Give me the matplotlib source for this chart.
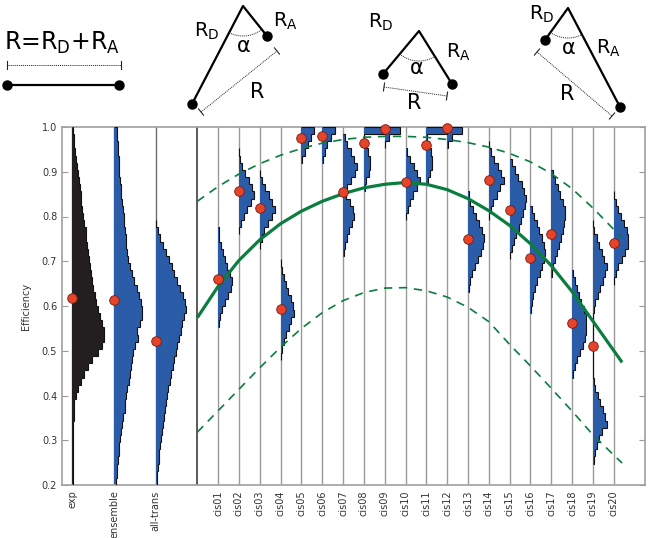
import numpy as np
import matplotlib
matplotlib.use('Agg')
import matplotlib.pyplot as plt

# column labels and their x positions on the axis
labels = ['exp', 'ensemble', 'all-trans'] + ['cis%02d' % i for i in range(1, 21)]
positions = [1, 3, 5] + list(range(8, 28))
separator = 7

# mean efficiency of each column (red dots)
mean_eff = [0.617, 0.614, 0.522,
            0.660, 0.858, 0.819, 0.594, 0.976, 0.980, 0.855, 0.965, 0.996, 0.876,
            0.959, 0.998, 0.749, 0.882, 0.815, 0.707, 0.761, 0.561, 0.510, 0.741]

# histograms: lower edge of first bin and counts, bins of equal width
bin_width = 0.016
hist_lo = [0.200, 0.200, 0.200,
           0.552, 0.760, 0.728, 0.480, 0.920, 0.920, 0.712, 0.856, 0.952, 0.792,
           0.872, 0.952, 0.632, 0.792, 0.704, 0.584, 0.664, 0.440, 0.248, 0.648]
hist_counts = [
    # exp
    [0.6, 0.6, 0.7, 0.7, 0.8, 0.8, 0.9, 0.9, 1.0, 1.1, 1.4, 2.0, 3.3, 5.5, 8.5, 11.5, 16, 20,
     26, 30, 32, 31.5, 30, 28, 25.5, 24, 22.5, 21, 19.5, 18.5, 17.5, 16.5, 15.5, 14.5, 14,
     13.3, 12, 10.7, 10, 9, 8.3, 7.3, 6.2, 5.2, 4.5, 3.8, 3.0, 2.0, 1.3, 0.7],
    # ensemble
    [1.5, 2.5, 3.2, 3.8, 4.5, 5.2, 6, 7, 8, 9.3, 10.5, 11.2, 12, 13.3, 14.5, 15.5, 16.5, 17.5,
     19, 21, 24.3, 23.3, 26, 28.3, 28, 27, 25, 22.5, 20.3, 18, 16, 14, 13, 12.3, 11.7, 11,
     10.2, 9.5, 8.8, 8, 7.3, 6.7, 6, 5.2, 4.8, 4.5, 4.2, 3.8, 3.4, 3.3],
    # all-trans
    [1.2, 1.8, 2.3, 3, 3.8, 4.7, 5.3, 6.3, 7.5, 8.5, 9.5, 10.5, 11.5, 12.7, 14, 15.5, 17,
     18.5, 20, 21.5, 23, 25, 26.5, 28.5, 30, 29, 27, 24.5, 21.5, 18.5, 16, 13.5, 10.5, 7.5,
     4.5, 2, 0.5],
    [0.7, 1.5, 3.5, 6.5, 9.5, 12.5, 13.7, 12, 9.3, 6.5, 4.5, 3, 1.3, 0.5],
    [0.5, 2.5, 5, 8.5, 12, 15.5, 13.5, 10, 6.5, 3.5, 1.5, 0.5],
    [0.5, 2, 4.5, 8, 12, 15, 12.5, 9, 5.5, 2.5, 0.5],
    [0.5, 1.5, 3.5, 5.5, 8, 10.5, 13.5, 12.5, 10, 7.5, 5, 3, 1.5, 0.4],
    [1, 3.5, 7, 10, 12.5],
    [1, 2.5, 5, 9, 13],
    [0.5, 1.5, 3.5, 5.5, 8.5, 10.5, 9.5, 6.5, 3, 4, 8, 12, 13.5, 11, 7.5, 4, 1.5],
    [1, 2.5, 5, 6.5, 6, 4, 2, 0.5, 21],
    [0.5, 4.5, 15],
    [0.5, 2, 4, 7, 11, 14, 11.5, 8, 4.5, 1.5],
    [1.5, 3.5, 5.5, 6, 5, 3, 1, 21],
    [0.5, 4.5, 14.5],
    [0.5, 2, 4, 6.5, 9.5, 12.5, 15, 16, 14, 11, 8, 5, 2, 0.5],
    [0.5, 2, 4.5, 8, 11.5, 15, 12.5, 9, 5.5, 2.5, 0.5],
    [0.5, 2, 4, 6.5, 9, 11, 13.5, 15.5, 16.3, 14.5, 12, 8.5, 5, 2],
    [0.5, 1.5, 3, 5, 7, 9.5, 11.5, 13.5, 15, 14, 12, 9, 6.5, 4, 1.5],
    [0.5, 1.5, 3.5, 5.5, 7.5, 9.5, 11.5, 12.5, 13.5, 14, 11.5, 9, 6.5, 4, 1.5],
    [0.5, 2.5, 5, 8, 10.5, 12.5, 13.5, 14.3, 13.5, 11.5, 9, 7, 4.5, 2.5, 1],
    [0.7, 2, 4, 6, 9, 14, 12.5, 10, 7.5, 5, 2.5, 1, 0, 0, 0, 0, 0, 0, 0, 0, 0,
     1, 2.5, 5, 7.5, 10, 12.5, 14, 11.5, 9, 6.5, 4, 1.5, 0.5],
    [0.5, 2, 4.5, 8, 11.5, 14, 14.5, 13, 10.5, 7.5, 4.5, 2, 0.5],
]
count_scale = 1 / 20.84  # counts -> column units

# model curves (green)
curve_x = [7, 8, 9, 10, 11, 12, 13, 14, 15, 16, 17, 18, 19, 20, 21, 22, 23, 24, 25, 26, 27.4]
curve_mid = [0.574, 0.644, 0.702, 0.748, 0.784, 0.812, 0.834, 0.851, 0.864, 0.872, 0.876,
             0.872, 0.860, 0.840, 0.813, 0.780, 0.739, 0.690, 0.632, 0.566, 0.474]
curve_hi = [0.834, 0.867, 0.895, 0.918, 0.937, 0.952, 0.964, 0.972, 0.977, 0.979, 0.979,
            0.977, 0.972, 0.965, 0.955, 0.941, 0.922, 0.896, 0.862, 0.819, 0.752]
curve_lo = [0.318, 0.366, 0.414, 0.462, 0.508, 0.550, 0.585, 0.612, 0.630, 0.640, 0.641,
            0.634, 0.620, 0.597, 0.565, 0.514, 0.466, 0.416, 0.365, 0.312, 0.249]

blue = '#2a5ca8'
dark = '#231f20'
green = '#0b7d3e'
red = '#e5432a'

fig = plt.figure(figsize=(6.48, 5.38), dpi=100)
ax = fig.add_axes([62 / 648, 1 - 485 / 538, 583 / 648, 358 / 538])

for i, pos in enumerate(positions):
    ax.axvline(pos, color='#6e6e6e' if i < 3 else '#9a9a9a', lw=1.0, zorder=1)
ax.axvline(separator, color='#5a5a5a', lw=1.4, zorder=1)

for i, pos in enumerate(positions):
    counts = np.array(hist_counts[i], dtype=float)
    edges = hist_lo[i] + bin_width * np.arange(len(counts) + 1)
    vals = pos + counts * count_scale
    ax.stairs(vals, edges, baseline=pos, orientation='horizontal', fill=True,
              color=dark if i == 0 else blue, lw=0, zorder=2)
    ax.stairs(vals, edges, baseline=pos, orientation='horizontal', fill=False,
              color='#111111', lw=0.8, zorder=3)

ax.plot(curve_x, curve_mid, color=green, lw=2.3, zorder=4, solid_capstyle='butt')
ax.plot(curve_x, curve_hi, color=green, lw=1.2, ls=(0, (5, 4)), zorder=4)
ax.plot(curve_x, curve_lo, color=green, lw=1.2, ls=(0, (5, 4)), zorder=4)

ax.scatter(positions, mean_eff, s=48, color=red, edgecolors='#7a1c10', linewidths=0.6,
           zorder=5, clip_on=False)

ax.set_xlim(0.5, 28.5)
ax.set_ylim(0.2, 1.0)
ax.set_yticks(np.arange(0.2, 1.01, 0.1))
ax.set_yticklabels(['%.1f' % v for v in np.arange(0.2, 1.01, 0.1)])
ax.set_xticks(positions)
ax.set_xticklabels(labels, rotation=90, va='top')
ax.tick_params(axis='y', direction='in', length=4, right=True, labelsize=7,
               colors='#999999', labelcolor='#333333', width=0.8)
ax.tick_params(axis='x', length=0, labelsize=7, labelcolor='#333333', pad=4)
ax.set_ylabel('Efficiency', fontsize=7, color='#333333', labelpad=8)
for s in ax.spines.values():
    s.set_color('#a0a0a0')
    s.set_linewidth(1.2)

# schematic drawings above the plot, in pixel coordinates
dax = fig.add_axes([0, 0, 1, 1])
dax.set_xlim(0, 648)
dax.set_ylim(538, 0)
dax.axis('off')


def dim_line(p, q, tick=4):
    p, q = np.array(p, float), np.array(q, float)
    d = (q - p) / np.linalg.norm(q - p)
    n = np.array([-d[1], d[0]]) * tick
    dax.plot([p[0], q[0]], [p[1], q[1]], color='#222222', lw=0.7, ls=(0, (1, 1)))
    for e in (p, q):
        dax.plot([e[0] - n[0], e[0] + n[0]], [e[1] - n[1], e[1] + n[1]], color='#222222', lw=0.8)


def angle_arc(apex, a, b, r=30):
    apex = np.array(apex, float)
    ta = np.arctan2(a[1] - apex[1], a[0] - apex[0])
    tb = np.arctan2(b[1] - apex[1], b[0] - apex[0])
    t = np.linspace(ta, tb, 30)
    dax.plot(apex[0] + r * np.cos(t), apex[1] + r * np.sin(t), color='#222222', lw=0.7,
             ls=(0, (1, 1)))


# linear chain
dax.text(62, 43, r'R=R$_\mathrm{D}$+R$_\mathrm{A}$', fontsize=17, ha='center', va='center')
dim_line((7, 65), (121, 65))
dax.plot([7, 119], [85, 85], color='black', lw=1.6)
dax.plot([7, 119], [85, 85], 'o', color='black', ms=6.5)

# bent geometries: apex, donor end, acceptor end, dimension line, label spots
bends = [
    dict(apex=(243, 6), d=(192, 104), a=(267, 36), r=((201, 112), (277, 51)),
         td=(207, 31), ta=(285, 21), tal=(244, 46), tr=(257, 92)),
    dict(apex=(419, 31), d=(383, 74), a=(452, 84), r=((384, 87), (447, 96)),
         td=(381, 22), ta=(458, 52), tal=(417, 68), tr=(414, 103)),
    dict(apex=(568, 8), d=(545, 40), a=(620, 107), r=((537, 52), (612, 116)),
         td=(542, 14), ta=(608, 48), tal=(569, 48), tr=(567, 94)),
]
for g in bends:
    dax.plot([g['d'][0], g['apex'][0], g['a'][0]], [g['d'][1], g['apex'][1], g['a'][1]],
             color='black', lw=1.6)
    dax.plot([g['d'][0], g['a'][0]], [g['d'][1], g['a'][1]], 'o', color='black', ms=6.5)
    dim_line(*g['r'])
    angle_arc(g['apex'], g['d'], g['a'])
    dax.text(*g['td'], r'R$_\mathrm{D}$', fontsize=14, ha='center', va='center')
    dax.text(*g['ta'], r'R$_\mathrm{A}$', fontsize=14, ha='center', va='center')
    dax.text(*g['tal'], '\u03b1', fontsize=15, ha='center', va='center')
    dax.text(*g['tr'], 'R', fontsize=15, ha='center', va='center')

fig.savefig('out.png', dpi=100)
